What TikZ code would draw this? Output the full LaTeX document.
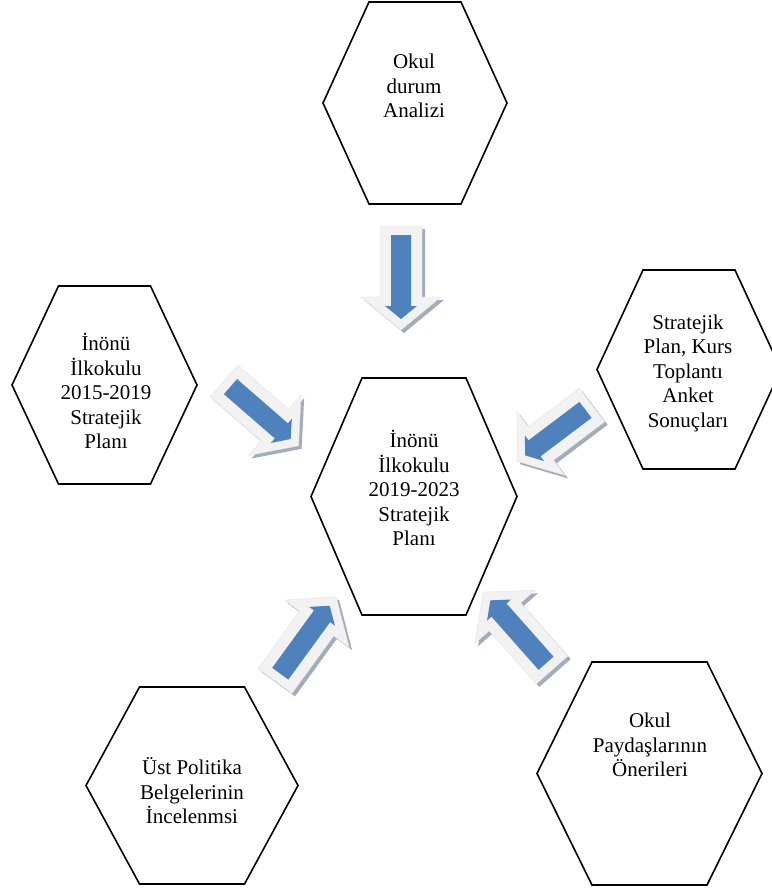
\documentclass[tikz,border=0pt]{standalone}
\usepackage{fontspec}
\setmainfont{Liberation Serif}
\usetikzlibrary{calc}
\definecolor{arrblue}{HTML}{4F81BD}
\definecolor{arrlight}{HTML}{F2F2F2}
\definecolor{arrshade}{HTML}{A3ADBA}
\tikzset{
  hexline/.style={draw=black,line width=1.6pt,line join=miter},
  hextext/.style={align=center,inner sep=0pt,font=\fontsize{21}{24.5}\selectfont},
  lightpart/.style={fill=arrlight,draw=black!10,line width=0.4pt},
  shadepart/.style={fill=arrshade},
  bluepart/.style={fill=arrblue},
}
% outer and inner block arrow outlines, local frame: tail centre at origin, pointing along +x
\def\outerarrow{(0,-21) -- (71,-21) -- (71,-40) -- (104,0) -- (71,40) -- (71,21) -- (0,21) -- cycle}
\def\innerarrow{(9,-10) -- (80,-10) -- (80,-16) -- (93,0) -- (80,16) -- (80,10) -- (9,10) -- cycle}
% #1 tail coordinate, #2 angle, #3 length scale
\newcommand\blockarrow[3]{%
  \begin{scope}[shift={($(#1)+(3,3)$)},rotate=#2,xscale=#3]
    \fill[shadepart] \outerarrow;
  \end{scope}
  \begin{scope}[shift={(#1)},rotate=#2,xscale=#3]
    \filldraw[lightpart] \outerarrow;
    \fill[bluepart] \innerarrow;
  \end{scope}}
% hexagon: #1 name, #2 cx, #3 cy, #4 half width, #5 half top edge, #6 half height
\newcommand\hexshape[6]{%
  \coordinate (#1) at (#2,#3);
  \draw[hexline] ($(#1)+(-#5,-#6)$) -- ($(#1)+(#5,-#6)$) -- ($(#1)+(#4,0)$)
     -- ($(#1)+(#5,#6)$) -- ($(#1)+(-#5,#6)$) -- ($(#1)+(-#4,0)$) -- cycle;}
\begin{document}
\begin{tikzpicture}[x=1pt,y=-1pt]
\useasboundingbox (0,0) rectangle (771,888);
\fill[white] (0,0) rectangle (771,888);
% arrows
\coordinate (tA) at (401,226);
\coordinate (tB) at (224,381);
\coordinate (tC) at (592,405);
\coordinate (tD) at (275,681);
\coordinate (tE) at (552,670);
\blockarrow{tA}{-90}{1}
\blockarrow{tB}{-41}{0.95}
\blockarrow{tC}{-143}{0.9}
\blockarrow{tD}{54}{1}
\blockarrow{tE}{131.5}{1}
% hexagons
\hexshape{hTop}{415}{103}{92}{46}{101}
\hexshape{hLeft}{104.5}{385}{92.5}{46}{99}
\hexshape{hRight}{689}{369.5}{92}{46}{99.5}
\hexshape{hMid}{414}{496.5}{103}{52}{118.5}
\hexshape{hBL}{192}{785.5}{106}{52.5}{98.5}
\hexshape{hBR}{649.5}{773.5}{112.5}{57.5}{111.5}
% texts
\node[hextext] (xTop) at (414,86) {Okul\\durum\\Analizi};
\node[hextext] (xLeft) at (106,391) {İnönü\\İlkokulu\\2015-2019\\Stratejik\\Planı};
\node[hextext] (xRight) at (688,373) {Stratejik\\Plan, Kurs\\Toplantı\\Anket\\Sonuçları};
\node[hextext] (xMid) at (414,488) {İnönü\\İlkokulu\\2019-2023\\Stratejik\\Planı};
\node[hextext] (xBL) at (192,791) {Üst Politika\\Belgelerinin\\İncelenmsi};
\node[hextext] (xBR) at (650,745) {Okul\\Paydaşlarının\\Önerileri};
\end{tikzpicture}
\end{document}
